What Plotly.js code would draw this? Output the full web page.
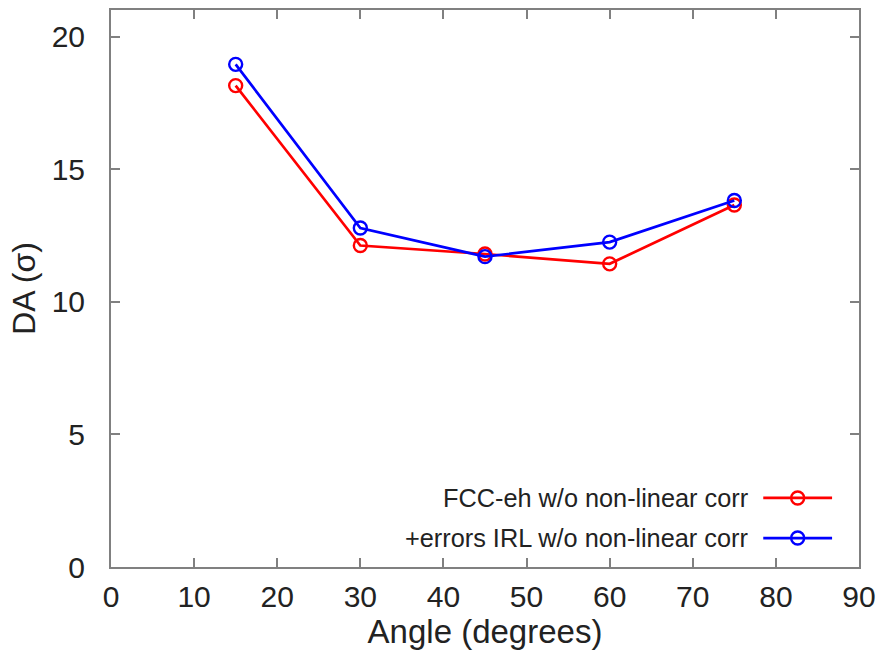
<!DOCTYPE html>
<html>
<head>
<meta charset="utf-8">
<script src="https://cdn.plot.ly/plotly-3.0.1.min.js"></script>
<style>html,body{margin:0;padding:0;background:#fff;}#chart{width:885px;height:652px;}</style>
</head>
<body>
<div id="chart"></div>
<script>
const angles = [15, 30, 45, 60, 75];
const fccEh = [18.15, 12.12, 11.8, 11.43, 13.65];
const errorsIRL = [18.95, 12.78, 11.7, 12.25, 13.82];
const seriesNames = ["FCC-eh w/o non-linear corr", "+errors IRL w/o non-linear corr"];
const seriesColors = ["#ff0000", "#0000ff"];

const font = "Liberation Sans, Arial, Helvetica, sans-serif";

const traces = [fccEh, errorsIRL].map((vals, i) => ({
  x: angles, y: vals, type: "scatter", mode: "lines+markers",
  name: seriesNames[i], showlegend: false,
  line: {color: seriesColors[i], width: 2.7},
  marker: {symbol: "circle-open", size: 13, color: seriesColors[i], line: {width: 2.4, color: seriesColors[i]}}
}));

const plotW = 885 - 111 - 26, plotH = 652 - 10 - 85;
const legY = [0.124, 0.052];
const shapes = [], annotations = [];
legY.forEach((yy, i) => {
  shapes.push({type: "line", xref: "paper", yref: "paper", x0: 0.872, x1: 0.964, y0: yy, y1: yy,
    line: {color: seriesColors[i], width: 2.7}});
  const rx = 6.5 / plotW, ry = 6.5 / plotH, cx = 0.918;
  shapes.push({type: "circle", xref: "paper", yref: "paper", x0: cx - rx, x1: cx + rx, y0: yy - ry, y1: yy + ry,
    line: {color: seriesColors[i], width: 2.4}, fillcolor: "rgba(0,0,0,0)"});
  annotations.push({xref: "paper", yref: "paper", x: 0.854, y: yy, xanchor: "right", yanchor: "middle",
    text: seriesNames[i], showarrow: false, font: {family: font, size: 25.3, color: "#222"}});
});

const axisCommon = {
  showgrid: false, zeroline: false, showline: true, mirror: "ticks",
  linecolor: "#808080", linewidth: 2, ticks: "inside", ticklen: 9, tickwidth: 2, tickcolor: "#808080",
  tickfont: {family: font, size: 30, color: "#222"}
};

const layout = {
  width: 885, height: 652,
  margin: {l: 111, r: 26, t: 10, b: 85},
  paper_bgcolor: "#fff", plot_bgcolor: "#fff",
  xaxis: Object.assign({}, axisCommon, {range: [0, 90], dtick: 10, tick0: 0, ticklabelstandoff: 2,
    title: {text: "Angle (degrees)", font: {family: font, size: 33, color: "#222"}, standoff: 6}}),
  yaxis: Object.assign({}, axisCommon, {range: [0, 21], tickvals: [0, 5, 10, 15, 20], ticklabelstandoff: 18,
    title: {text: "DA (σ)", font: {family: font, size: 32, color: "#222"}, standoff: 6}}),
  shapes: shapes, annotations: annotations, showlegend: false
};

Plotly.newPlot("chart", traces, layout, {displayModeBar: false, staticPlot: true});
</script>
</body>
</html>
